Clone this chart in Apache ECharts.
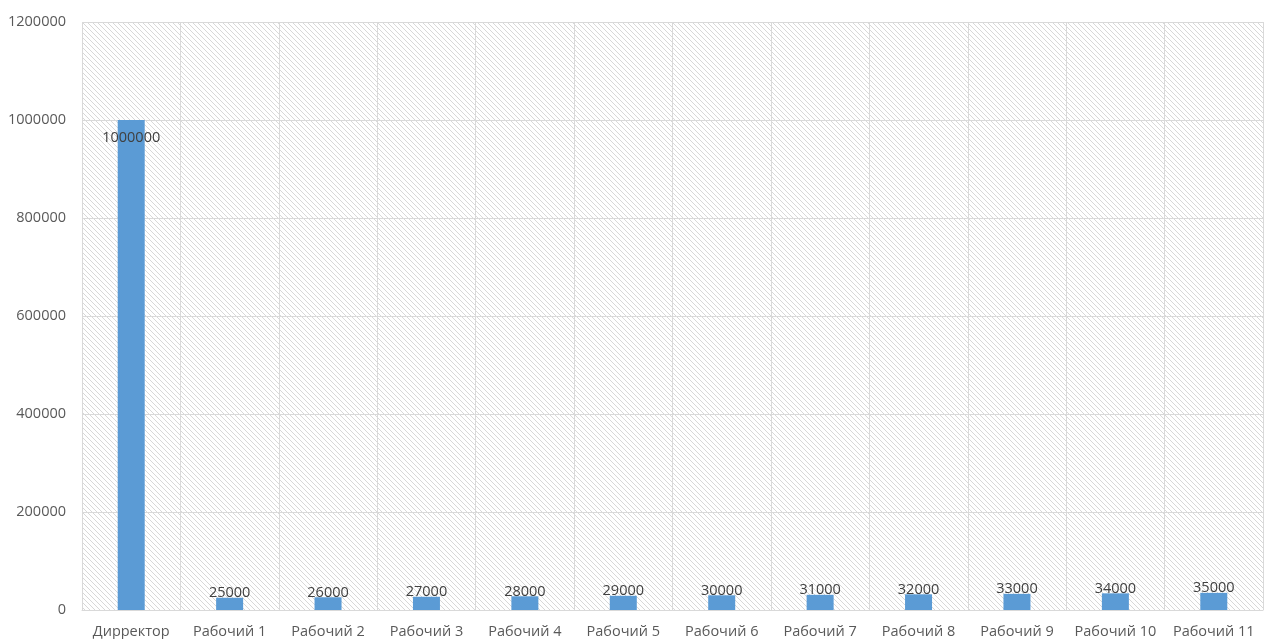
<!DOCTYPE html>
<html><head><meta charset="utf-8">
<script src="https://cdn.jsdelivr.net/npm/echarts@6/dist/echarts.min.js"></script>
<style>html,body{margin:0;padding:0;background:#fff}#c{width:1264px;height:639px}</style>
</head><body><div id="c"></div>
<script>
const categories = ['Дирректор','Рабочий 1','Рабочий 2','Рабочий 3','Рабочий 4','Рабочий 5','Рабочий 6','Рабочий 7','Рабочий 8','Рабочий 9','Рабочий 10','Рабочий 11'];
const values = [1000000,25000,26000,27000,28000,29000,30000,31000,32000,33000,34000,35000];
const yTicks = [0,200000,400000,600000,800000,1000000,1200000];

const tile = document.createElement('canvas');
tile.width = 5; tile.height = 5;
const g = tile.getContext('2d');
g.fillStyle = '#ffffff'; g.fillRect(0,0,5,5);
g.strokeStyle = '#d8d8d8'; g.lineWidth = 1;
g.beginPath();
g.moveTo(-1,-1); g.lineTo(6,6);
g.moveTo(-1,4); g.lineTo(1,6);
g.moveTo(4,-1); g.lineTo(6,1);
g.stroke();

const font = '"Open Sans", "DejaVu Sans", sans-serif';
const data = values.map(v => ({
  value: v,
  label: v > 100000 ? {position: 'insideTop', distance: 10} : {position: 'top', distance: -3}
}));

const chart = echarts.init(document.getElementById('c'));
chart.setOption({
  animation: false,
  grid: {left: 82, right: 1, top: 22, bottom: 29, show: true, borderWidth: 0,
    backgroundColor: {image: tile, repeat: 'repeat'}},
  xAxis: {type: 'category', data: categories,
    axisLine: {lineStyle: {color: '#d9d9d9'}}, axisTick: {show: false},
    splitLine: {show: true, lineStyle: {color: '#d9d9d9'}},
    axisLabel: {color: '#595959', fontFamily: font, fontSize: 14.5, margin: 14, interval: 0}},
  yAxis: {type: 'value', min: 0, max: 1200000, interval: 200000,
    axisLine: {show: false}, axisTick: {show: false},
    splitLine: {lineStyle: {color: '#d9d9d9'}},
    axisLabel: {color: '#595959', fontFamily: font, fontSize: 14.5, margin: 16,
      formatter: v => yTicks.includes(v) ? String(v) : ''}},
  series: [{type: 'bar', data: data, barWidth: 27,
    itemStyle: {color: '#5b9bd5'},
    label: {show: true, color: '#404040', fontFamily: font, fontSize: 14.5}}]
});
</script></body></html>
